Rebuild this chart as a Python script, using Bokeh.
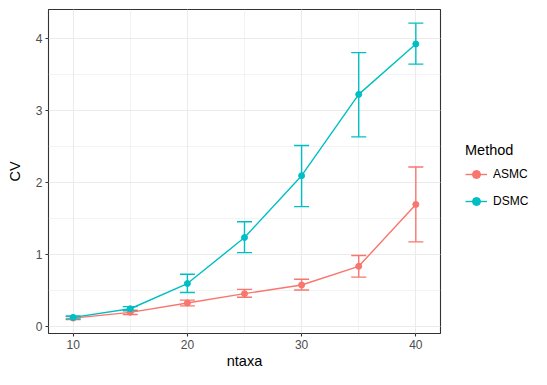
from bokeh.plotting import figure
from bokeh.models import (Range1d, ColumnDataSource, Whisker, TeeHead, Legend, LegendItem,
                          SingleIntervalTicker)
from bokeh.embed import file_html
from bokeh.resources import INLINE

# ---- data ----
ntaxa = [10, 15, 20, 25, 30, 35, 40]
asmc_cv = [0.12, 0.20, 0.33, 0.46, 0.58, 0.84, 1.70]
asmc_lo = [0.10, 0.17, 0.29, 0.41, 0.51, 0.69, 1.18]
asmc_hi = [0.14, 0.23, 0.37, 0.52, 0.66, 0.99, 2.22]
dsmc_cv = [0.13, 0.25, 0.60, 1.24, 2.10, 3.23, 3.93]
dsmc_lo = [0.11, 0.22, 0.475, 1.03, 1.67, 2.64, 3.65]
dsmc_hi = [0.15, 0.28, 0.73, 1.46, 2.52, 3.81, 4.22]
methods = ["ASMC", "DSMC"]
colors = ["#F8766D", "#00BFC4"]

FONT = "Liberation Sans"

p = figure(frame_width=392, frame_height=324, output_backend="svg", toolbar_location=None,
           x_range=Range1d(7.84, 42.16), y_range=Range1d(-0.094, 4.41),
           min_border_left=48, min_border_top=9, min_border_bottom=0, min_border_right=91,
           x_axis_label="ntaxa", y_axis_label="CV")

p.background_fill_color = "white"
p.border_fill_color = "white"
p.outline_line_color = "#333333"
p.outline_line_width = 1.1

p.xaxis.ticker = SingleIntervalTicker(interval=10, num_minor_ticks=2)
p.yaxis.ticker = SingleIntervalTicker(interval=1, num_minor_ticks=2)

for ax in (p.xaxis[0], p.yaxis[0]):
    ax.axis_line_color = None
    ax.major_tick_line_color = "#333333"
    ax.major_tick_line_width = 1.1
    ax.major_tick_out = 3
    ax.major_tick_in = 0
    ax.minor_tick_line_color = None
    ax.major_label_text_font = FONT
    ax.major_label_text_font_size = "12px"
    ax.major_label_text_color = "#4D4D4D"
    ax.major_label_standoff = 2
    ax.axis_label_text_font = FONT
    ax.axis_label_text_font_size = "14.5px"
    ax.axis_label_text_font_style = "normal"
    ax.axis_label_text_color = "black"
p.xaxis.axis_label_standoff = 1
p.yaxis.axis_label_standoff = 10

for g in (p.xgrid[0], p.ygrid[0]):
    g.grid_line_color = "#EBEBEB"
    g.grid_line_width = 1.1
    g.minor_grid_line_color = "#EBEBEB"
    g.minor_grid_line_width = 0.6

items = []
series = [(asmc_cv, asmc_lo, asmc_hi), (dsmc_cv, dsmc_lo, dsmc_hi)]
for name, col, (cv, lo, hi) in zip(methods, colors, series):
    src = ColumnDataSource(dict(x=ntaxa, y=cv, lo=lo, hi=hi))
    ln = p.line("x", "y", source=src, line_color=col, line_width=1.4)
    sc = p.scatter("x", "y", source=src, size=6, fill_color=col, line_color=col)
    w = Whisker(base="x", upper="hi", lower="lo", source=src, dimension="height",
                line_color=col, line_width=1.4,
                upper_head=TeeHead(size=15, line_color=col, line_width=1.4),
                lower_head=TeeHead(size=15, line_color=col, line_width=1.4))
    p.add_layout(w)
    items.append(LegendItem(label=name, renderers=[ln, sc]))

legend = Legend(items=items, title="Method", location=(25, 122),
                title_text_font=FONT, title_text_font_size="14.5px", title_text_color="black",
                title_text_font_style="normal",
                label_text_font=FONT, label_text_font_size="12px", label_text_color="black",
                glyph_width=22, glyph_height=20, label_height=20, label_standoff=6,
                spacing=7, title_standoff=6, padding=0, margin=0,
                border_line_color=None, background_fill_alpha=0)
p.add_layout(legend, "right")

open("out.html", "w").write(file_html(p, INLINE))
